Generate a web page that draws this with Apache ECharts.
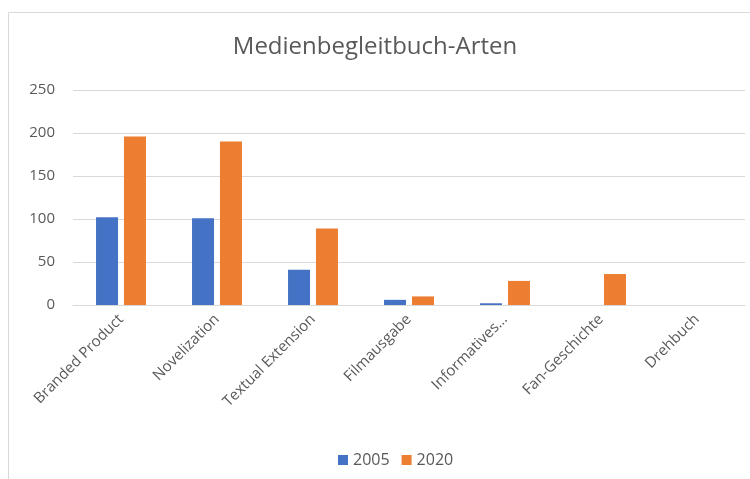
<!DOCTYPE html>
<html><head><meta charset="utf-8">
<script src="https://cdn.jsdelivr.net/npm/echarts@6/dist/echarts.min.js"></script>
<style>html,body{margin:0;padding:0;background:#fff}#c{width:750px;height:479px}</style>
</head><body><div id="c"></div>
<script>
const categories = ["Branded Product","Novelization","Textual Extension","Filmausgabe","Informatives…","Fan-Geschichte","Drehbuch"];
const values2005 = [102,101,41,6,2,0,0];
const values2020 = [196,190,89,10,28,36,0];
const seriesNames = ["2005","2020"];
const yTicks = {min:0,max:250,interval:50};

const chart = echarts.init(document.getElementById('c'));
const font = "'Open Sans', 'Noto Sans', sans-serif";
chart.setOption({
  animation:false,
  backgroundColor:'#fff',
  graphic:[{type:'rect',shape:{x:8.5,y:12.5,width:760,height:480},style:{fill:'none',stroke:'#d9d9d9',lineWidth:1}}],
  title:{text:'Medienbegleitbuch-Arten',left:'center',top:30,textStyle:{fontFamily:font,fontSize:24,fontWeight:'normal',color:'#595959'}},
  legend:{data:seriesNames,bottom:6,left:333,itemWidth:10,itemHeight:10,itemGap:12,icon:'rect',textStyle:{fontFamily:font,fontSize:16,color:'#595959'}},
  grid:{left:73,right:5,top:90,bottom:174,containLabel:false},
  xAxis:{type:'category',data:categories,axisLine:{lineStyle:{color:'#d9d9d9'}},axisTick:{show:false},
    axisLabel:{rotate:45,interval:0,fontFamily:font,fontSize:15,color:'#595959',margin:12}},
  yAxis:{type:'value',min:yTicks.min,max:yTicks.max,interval:yTicks.interval,axisLine:{show:false},axisTick:{show:false},
    splitLine:{lineStyle:{color:'#d9d9d9'}},axisLabel:{fontFamily:font,fontSize:15,color:'#595959',margin:18}},
  series:[
    {name:seriesNames[0],type:'bar',data:values2005,barWidth:22,barGap:'27%',itemStyle:{color:'#4472c4'}},
    {name:seriesNames[1],type:'bar',data:values2020,barWidth:22,itemStyle:{color:'#ed7d31'}}
  ]
});
</script></body></html>
